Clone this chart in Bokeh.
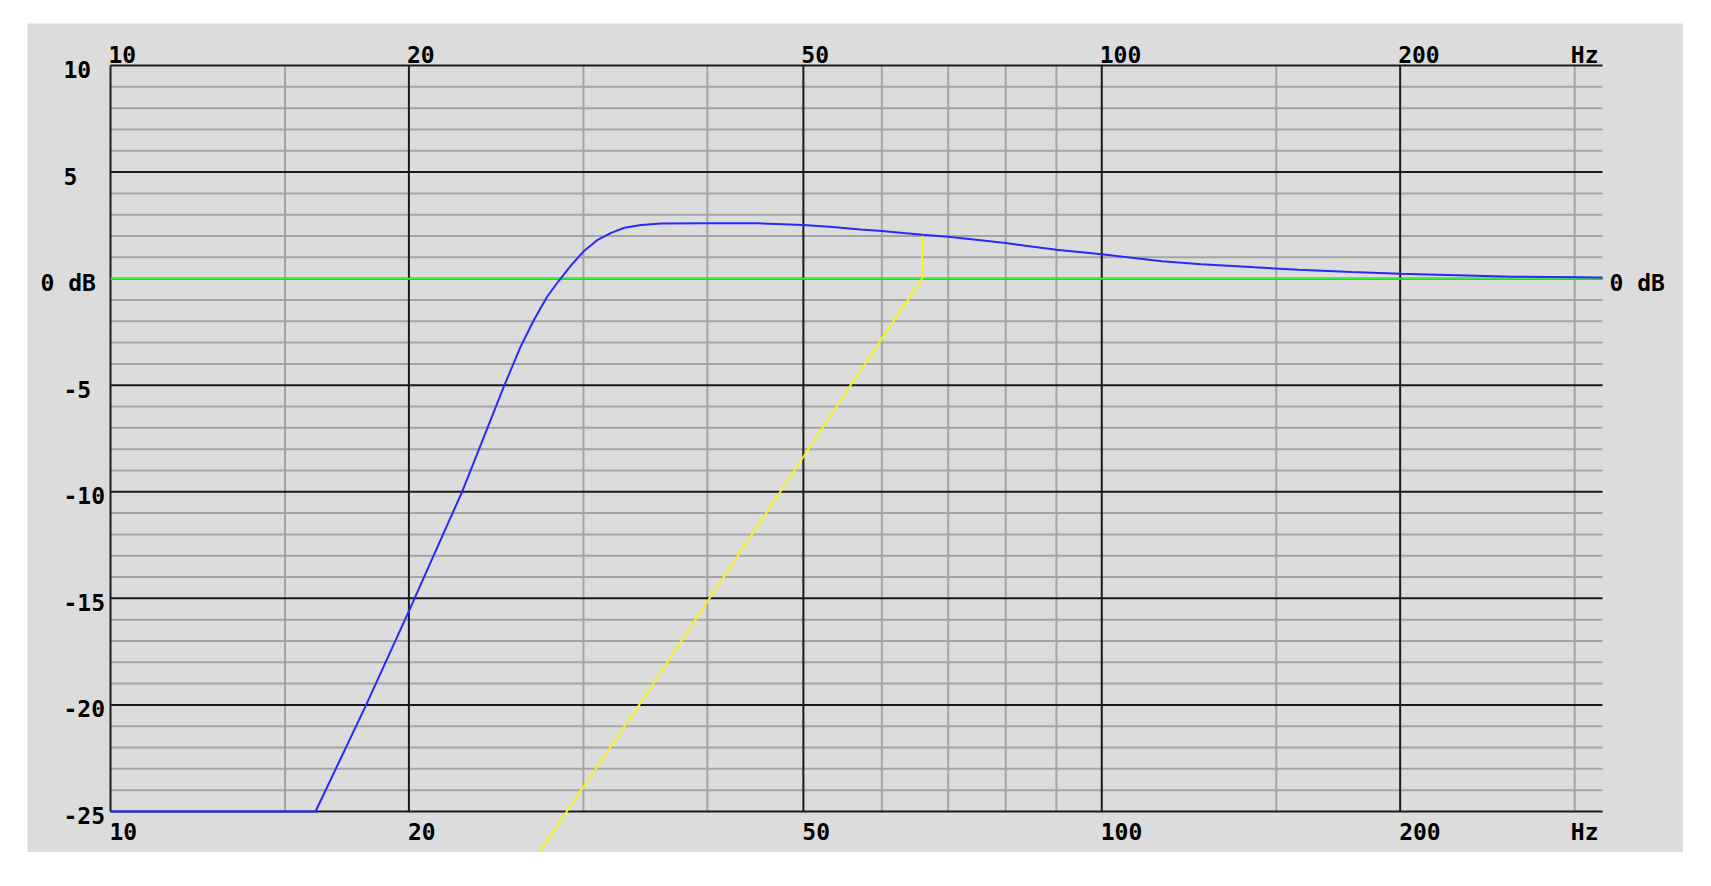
import math
from bokeh.plotting import figure
from bokeh.core.properties import value
from bokeh.embed import file_html
from bokeh.resources import INLINE

# ---------------- data ----------------
freq_major = [10, 20, 50, 100, 200]
freq_minor = [15, 30, 40, 60, 70, 80, 90, 150, 300]
freq_labels = ["10", "20", "50", "100", "200"]
freq_unit = "Hz"
f_lo, f_hi = 10, 320

db_major = [-25, -20, -15, -10, -5, 0, 5, 10]
db_minor = [-24, -23, -22, -21, -19, -18, -17, -16, -14, -13, -12, -11,
            -9, -8, -7, -6, -4, -3, -2, -1, 1, 2, 3, 4, 6, 7, 8, 9]
db_labels = ["-25", "-20", "-15", "-10", "-5", "0 dB", "5", "10"]
db_lo, db_hi = -25, 10
db_ref = 0
db_ref_label = "0 dB"

blue_f = [10, 16.10, 18.11, 20.0, 21.11, 22.63, 23.89, 24.97, 25.92, 26.73,
          27.57, 28.33, 29.15, 30.0, 31.01, 31.99, 33.0, 34.3, 35.93, 40.0,
          45.0, 50.0, 53.5, 57.1, 60.0, 63.1, 65.9, 70.0, 80.0, 90.0,
          100.0, 115.0, 126.0, 142.6, 158.0, 178.7, 200.0, 260.0, 320.0]
blue_db = [-25, -25, -20, -15.6, -13.15, -10, -7.25, -5, -3.2, -1.95,
           -0.85, -0.1, 0.62, 1.27, 1.82, 2.15, 2.39, 2.52, 2.59, 2.60,
           2.60, 2.52, 2.42, 2.31, 2.24, 2.14, 2.06, 1.96, 1.67, 1.36,
           1.14, 0.82, 0.68, 0.53, 0.42, 0.31, 0.23, 0.09, 0.05]

yellow_f = [27.0, 28.86, 34.14, 40.2, 47.4, 55.8, 65.9, 65.9]
yellow_db = [-27.0, -25.0, -20.0, -15.0, -10.0, -5.0, 0.0, 2.06]

# ---------------- layout ----------------
W, H = 1656, 829
L, R, T, B = 83, 81, 42, 41
px_per_db = (H - T - B) / (db_hi - db_lo)
px_per_dec = (W - L - R) / math.log10(f_hi / f_lo)
y_start = db_lo - B / px_per_db
y_end = db_hi + T / px_per_db
x_start = f_lo * 10 ** (-L / px_per_dec)
x_end = f_hi * 10 ** (R / px_per_dec)

BG = "#dcdcdc"
MINOR = "#a4a4a4"
MAJOR = "#1a1a1a"
FONT = value("DejaVu Sans Mono")
FS = "23px"
TXT = "#000000"

p = figure(width=W, height=H, x_axis_type="log",
           x_range=(x_start, x_end), y_range=(y_start, y_end),
           x_axis_location=None, y_axis_location=None,
           toolbar_location=None, tools="", output_backend="svg",
           min_border=0, background_fill_color=BG, border_fill_color=BG,
           outline_line_color=None)
p.grid.visible = False
p.margin = (23, 0, 0, 27)

nmn = len(db_minor)
p.segment(x0=[f_lo] * nmn, y0=db_minor, x1=[f_hi] * nmn, y1=db_minor,
          line_color=MINOR, line_width=2)
nfm = len(freq_minor)
p.segment(x0=freq_minor, y0=[db_lo] * nfm, x1=freq_minor, y1=[db_hi] * nfm,
          line_color=MINOR, line_width=2)
nmj = len(db_major)
p.segment(x0=[f_lo] * nmj, y0=db_major, x1=[f_hi] * nmj, y1=db_major,
          line_color=MAJOR, line_width=2)
nfj = len(freq_major)
p.segment(x0=freq_major, y0=[db_lo] * nfj, x1=freq_major, y1=[db_hi] * nfj,
          line_color=MAJOR, line_width=2)

# reference 0 dB line
p.line([f_lo, f_hi], [db_ref, db_ref], line_color="#3cf03c", line_width=2)

# curves
p.line(yellow_f, yellow_db, line_color="#f4f41c", line_width=2)
p.line(blue_f, blue_db, line_color="#2828ff", line_width=2)

# frequency labels top & bottom
common = dict(text_font=FONT, text_font_size=FS, text_font_style="bold",
              text_color=TXT, text_baseline="middle")
p.text(x=freq_major, y=[db_hi] * nfj, text=freq_labels, text_align="left",
       x_offset=-2, y_offset=-11, **common)
p.text(x=freq_major, y=[db_lo] * nfj, text=freq_labels, text_align="left",
       x_offset=-1, y_offset=20, **common)
p.text(x=[f_hi, f_hi], y=[db_hi, db_lo], text=[freq_unit, freq_unit],
       text_align="right", x_offset=-4, y_offset=[-11, 20], **common)

# dB labels left and right
num_idx = [i for i, t in enumerate(db_labels) if t != db_ref_label]
p.text(x=[f_lo] * len(num_idx), y=[db_major[i] for i in num_idx],
       text=[db_labels[i] for i in num_idx], text_align="left",
       x_offset=-47, y_offset=4, **common)
p.text(x=[f_lo], y=[db_ref], text=[db_ref_label], text_align="left",
       x_offset=-70, y_offset=4, **common)
p.text(x=[f_hi], y=[db_ref], text=[db_ref_label], text_align="left",
       x_offset=7, y_offset=4, **common)

open("out.html", "w").write(file_html(p, INLINE))
